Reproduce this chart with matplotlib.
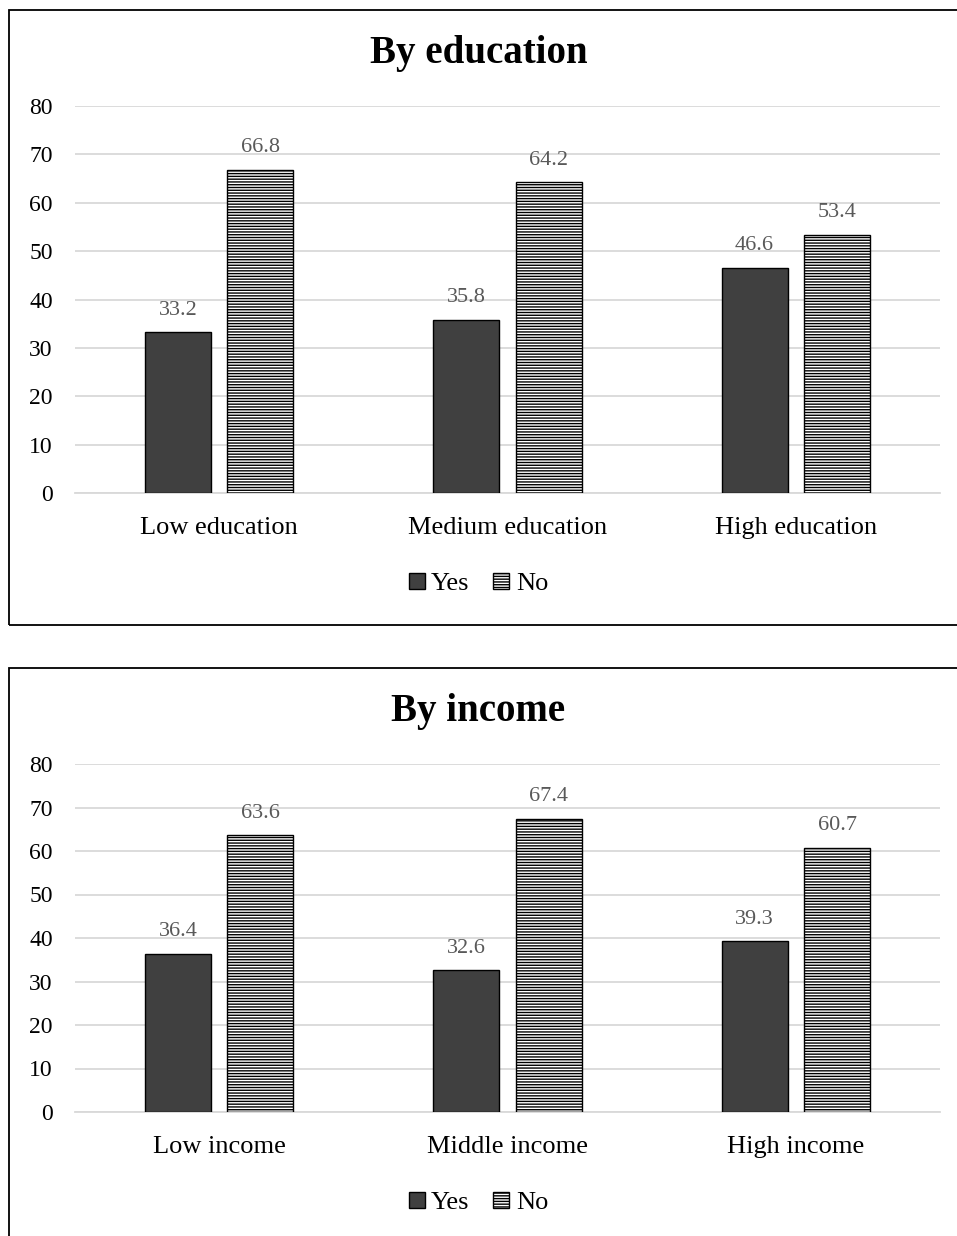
import matplotlib.pyplot as plt
from matplotlib.patches import Rectangle

plt.rcParams['font.family'] = ['Liberation Serif', 'DejaVu Serif']
plt.rcParams['hatch.linewidth'] = 1.0

edu_labels = ['Low education', 'Medium education', 'High education']
edu_yes = [33.2, 35.8, 46.6]
edu_no = [66.8, 64.2, 53.4]

inc_labels = ['Low income', 'Middle income', 'High income']
inc_yes = [36.4, 32.6, 39.3]
inc_no = [63.6, 67.4, 60.7]

W, H = 957, 1236
fig = plt.figure(figsize=(W / 100, H / 100), dpi=100)


def px_axes(left, top, right, bottom):
    # axes placed by pixel edges, measured from the top-left corner
    return fig.add_axes([left / W, 1 - bottom / H, (right - left) / W, (bottom - top) / H])


def frame(top, bottom):
    fig.patches.append(Rectangle((9 / W, 1 - bottom / H), 1.0, (bottom - top) / H,
                                 transform=fig.transFigure, fill=False,
                                 edgecolor='black', linewidth=1.3, clip_on=False))


def panel(ax, title, labels, yes, no, title_y, legend_y):
    x = range(len(labels))
    w = 0.229
    off = 0.143
    b1 = ax.bar([i - off for i in x], yes, w, color='#404040', edgecolor='black',
                linewidth=1.0, label='Yes', zorder=3)
    b2 = ax.bar([i + off for i in x], no, w, color='white', edgecolor='black',
                hatch='------', linewidth=1.0, label='No', zorder=3)
    for bars in (b1, b2):
        ax.bar_label(bars, labels=[f'{v:.1f}' for v in bars.datavalues], padding=9,
                     fontsize=16, color='#595959')
    ax.set_xlim(-0.5, len(labels) - 0.5)
    ax.set_ylim(0, 80)
    ax.set_yticks(range(0, 81, 10))
    ax.yaxis.grid(True, color='#d9d9d9', linewidth=1.3, zorder=0)
    ax.set_axisbelow(True)
    for s in ['top', 'right', 'left']:
        ax.spines[s].set_visible(False)
    ax.spines['bottom'].set_color('#d9d9d9')
    ax.spines['bottom'].set_linewidth(1.3)
    ax.tick_params(length=0, labelsize=17)
    ax.tick_params(axis='y', pad=16)
    ax.set_xticks(list(x))
    ax.set_xticklabels(labels, fontsize=19)
    ax.tick_params(axis='x', pad=17)
    fig.text(0.5, 1 - title_y / H, title, ha='center', va='center',
             fontsize=28, fontweight='bold')
    fig.legend(handles=[b1, b2], loc='center', bbox_to_anchor=(0.5, 1 - legend_y / H),
               ncol=2, frameon=False, fontsize=19, handlelength=0.6, handleheight=0.6,
               handletextpad=0.25, columnspacing=0.9)


ax1 = px_axes(75, 106, 940, 493)
panel(ax1, 'By education', edu_labels, edu_yes, edu_no, 53, 584)
frame(10, 625)

ax2 = px_axes(75, 764, 940, 1112)
panel(ax2, 'By income', inc_labels, inc_yes, inc_no, 712, 1203)
frame(668, 1300)

fig.savefig('out.png', dpi=100)
